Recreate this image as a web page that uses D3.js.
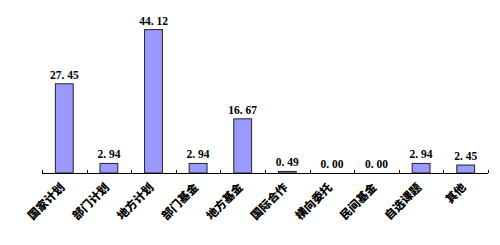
<!DOCTYPE html>
<html lang="zh">
<head>
<meta charset="UTF-8">
<title>经费来源</title>
<script src="https://d3js.org/d3.v7.min.js"></script>
<style>
  body { margin: 0; background: #fff; }
  .val { font-family: "Liberation Serif", "DejaVu Serif", serif; font-weight: bold; font-size: 11.5px; }
  .cat { font-family: "Noto Sans CJK SC", sans-serif; font-weight: 900; font-size: 11.5px; }
</style>
</head>
<body>
<svg id="chart"></svg>
<script>
const categories = ["国家计划", "部门计划", "地方计划", "部门基金", "地方基金", "国际合作", "横向委托", "民间基金", "自选课题", "其他"];
const values = [27.45, 2.94, 44.12, 2.94, 16.67, 0.49, 0.00, 0.00, 2.94, 2.45];

const width = 500, height = 245;
const left = 42, right = 488, baseY = 173;

const svg = d3.select("#chart").attr("width", width).attr("height", height);

const x = d3.scaleBand().domain(categories).range([left, right]).paddingInner(0.6).paddingOuter(0.3);
const y = d3.scaleLinear().domain([0, 50]).range([baseY, baseY - 162.5]);

svg.selectAll("rect.bar")
  .data(values)
  .enter().append("rect")
  .attr("class", "bar")
  .attr("x", (d, i) => x(categories[i]))
  .attr("y", d => y(d))
  .attr("width", x.bandwidth())
  .attr("height", d => baseY - y(d))
  .attr("fill", "#9999ff")
  .attr("stroke", "#222")
  .attr("stroke-width", 1);

svg.selectAll("text.val")
  .data(values)
  .enter().append("text")
  .attr("class", "val")
  .attr("x", (d, i) => x(categories[i]) + x.bandwidth() / 2)
  .attr("y", d => y(d) - 5)
  .attr("text-anchor", "middle")
  .text(d => d.toFixed(2).replace(".", ". "));

// axis line with inner ticks at band boundaries
const boundaries = d3.range(categories.length + 1).map(i => left + i * (right - left) / categories.length);
svg.append("line")
  .attr("x1", left).attr("x2", right)
  .attr("y1", baseY + 0.5).attr("y2", baseY + 0.5)
  .attr("stroke", "#000");
svg.selectAll("line.tick")
  .data(boundaries)
  .enter().append("line")
  .attr("x1", d => Math.round(d) + 0.5).attr("x2", d => Math.round(d) + 0.5)
  .attr("y1", baseY).attr("y2", baseY - 3)
  .attr("stroke", "#000");

svg.selectAll("text.cat")
  .data(categories)
  .enter().append("text")
  .attr("class", "cat")
  .attr("text-anchor", "end")
  .attr("transform", d => `translate(${x(d) + x.bandwidth() / 2 + 1},${baseY + 15}) rotate(-45)`)
  .text(d => d);
</script>
</body>
</html>
